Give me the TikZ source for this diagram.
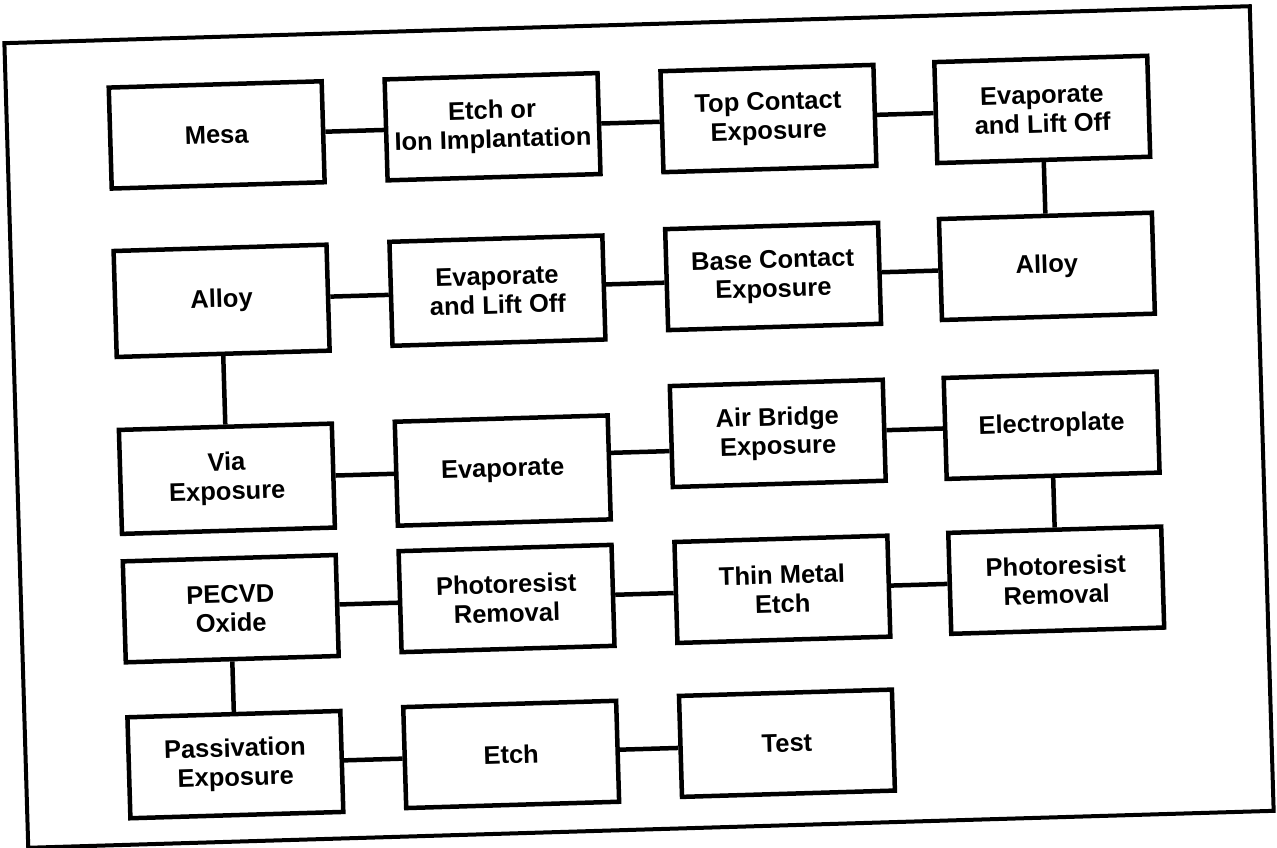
\documentclass[tikz,border=0pt]{standalone}
\usepackage{fontspec}
\setmainfont{Liberation Sans}
\usetikzlibrary{calc}
\newcommand\hlink[2]{%
  \coordinate (m-#1-#2) at ($(#1.center)!0.5!(#2.center)$);
  \draw[link] ($(#1.south east)!(m-#1-#2)!(#1.north east)$) -- ($(#2.south west)!(m-#1-#2)!(#2.north west)$);}
\begin{document}
\begin{tikzpicture}[x=1pt,y=-1pt,
  box/.style={draw=black, line width=4.5pt, minimum width=213pt, minimum height=101pt,
    inner sep=0pt, align=center, font=\fontsize{25.5}{29}\selectfont\bfseries},
  link/.style={line width=4.5pt},
  frame/.style={line width=4pt}]
\useasboundingbox (0,0) rectangle (1277,848);
\begin{scope}[shift={(639,426.5)}, rotate=1.7, transform shape]
\draw[frame] (-623,-402) rectangle (623,403);
% row 1
\node[box] (mesa)  at (-413.5,-304) {Mesa};
\node[box] (etch)  at (-137.5,-304) {Etch or\\Ion Implantation};
\node[box] (topc)  at (138.5,-304)  {Top Contact\\Exposure};
\node[box] (evapA) at (412.5,-305)  {Evaporate\\and Lift Off};
% row 2
\node[box, minimum height=106pt] (alloyL) at (-413.5,-138) {Alloy};
\node[box, minimum height=104pt] (evapB)  at (-137.5,-140) {Evaporate\\and Lift Off};
\node[box] (base)   at (138.5,-146)  {Base Contact\\Exposure};
\node[box] (alloyR) at (412.5,-148)  {Alloy};
% row 3
\node[box, minimum height=104pt] (via)   at (-413.5,40) {Via\\Exposure};
\node[box, minimum height=104pt] (evapC) at (-137.5,40) {Evaporate};
\node[box] (air)   at (138.5,11)  {Air Bridge\\Exposure};
\node[box] (elec)  at (412.5,11)  {Electroplate};
% row 4
\node[box] (pecvd)  at (-413.5,170) {PECVD\\Oxide};
\node[box] (photoL) at (-137.5,168) {Photoresist\\Removal};
\node[box] (thin)   at (138.5,167)  {Thin Metal\\Etch};
\node[box] (photoR) at (412.5,166)  {Photoresist\\Removal};
% row 5
\node[box] (pass)  at (-413.5,326) {Passivation\\Exposure};
\node[box] (etchB) at (-137.5,324) {Etch};
\node[box] (test)  at (138.5,321)  {Test};
% connectors
\hlink{mesa}{etch}
\hlink{etch}{topc}
\hlink{topc}{evapA}
\draw[link] (evapA.south) -- (alloyR.north);
\hlink{base}{alloyR}
\hlink{evapB}{base}
\hlink{alloyL}{evapB}
\draw[link] (alloyL.south) -- (via.north);
\hlink{via}{evapC}
\hlink{evapC}{air}
\hlink{air}{elec}
\draw[link] (elec.south) -- (photoR.north);
\hlink{thin}{photoR}
\hlink{photoL}{thin}
\hlink{pecvd}{photoL}
\draw[link] (pecvd.south) -- (pass.north);
\hlink{pass}{etchB}
\hlink{etchB}{test}
\end{scope}
\end{tikzpicture}
\end{document}
